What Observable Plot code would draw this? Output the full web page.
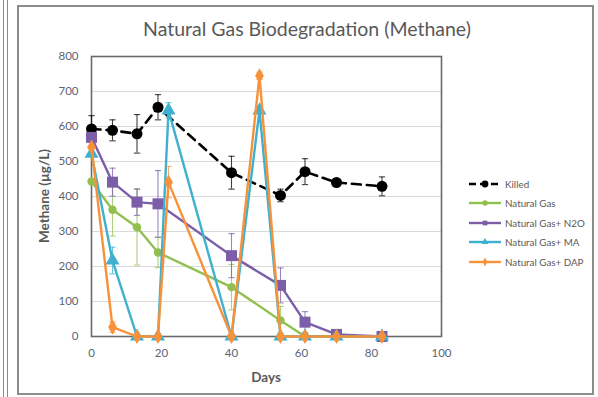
<!DOCTYPE html>
<html>
<head>
<meta charset="utf-8">
<script src="https://cdn.jsdelivr.net/npm/d3@7"></script>
<script src="https://cdn.jsdelivr.net/npm/@observablehq/plot@0.6"></script>
<style>
  body { margin: 0; background: #fff; font-family: Lato, "Open Sans", sans-serif; }
  #wrap { position: relative; width: 598px; height: 397px; overflow: hidden; background: #fff; }
  #edge { position: absolute; left: 3px; top: -4px; width: 3px; height: 405px; border-left: 1.5px solid #8a8a8a; border-right: 1.5px solid #8a8a8a; }
  #frame { position: absolute; left: 17px; top: 5px; width: 573px; height: 386px; border: 2px solid #8c8c8c; box-sizing: content-box; }
  #chart { position: absolute; left: 0; top: 0; }
  #title { position: absolute; left: 18px; width: 578px; top: 17px; text-align: center; font-size: 19.5px; color: #595959; }
  #ytitle { position: absolute; left: 44px; top: 196px; transform: translate(-50%, -50%) rotate(-90deg); font-size: 13.5px; font-weight: bold; color: #595959; white-space: nowrap; }
  #xtitle { position: absolute; left: 266px; top: 377px; transform: translate(-50%, -50%); font-size: 13.5px; font-weight: bold; color: #595959; }
  #legend { position: absolute; left: 468px; top: 174px; font-size: 9.8px; color: #595959; }
  #legend .row { display: flex; align-items: center; height: 19.5px; }
  #legend svg { margin-right: 3px; }
</style>
</head>
<body>
<div id="wrap">
  <div id="edge"></div>
  <div id="frame"></div>
  <div id="chart"></div>
  <div id="title">Natural Gas Biodegradation (Methane)</div>
  <div id="ytitle">Methane (µg/L)</div>
  <div id="xtitle">Days</div>
  <div id="legend"></div>
</div>
<script>
// Sampling days and methane concentrations (µg/L) with ± error for each treatment
const seriesNames = ["Killed", "Natural Gas", "Natural Gas+ N2O", "Natural Gas+ MA", "Natural Gas+ DAP"];
const seriesColors = ["#000000", "#92c050", "#7b5ea7", "#3fb0cf", "#f7923a"];
const seriesSymbols = ["circle", "circle", "square", "triangle", "diamond"];

const killedDays = [0, 6, 13, 19, 40, 54, 61, 70, 83];
const killedMethane = [593, 589, 579, 655, 468, 403, 471, 440, 429];
const killedErr = [38, 30, 55, 36, 47, 18, 37, 0, 27];

const gasDays = [0, 6, 13, 19, 40, 54, 61, 70, 83];
const gasMethane = [443, 362, 312, 240, 141, 46, 0, 0, 0];
const gasErr = [0, 75, 108, 43, 65, 40, 0, 0, 0];

const n2oDays = [0, 6, 13, 19, 40, 54, 61, 70, 83];
const n2oMethane = [569, 441, 384, 379, 231, 146, 41, 6, 0];
const n2oErr = [0, 40, 38, 95, 63, 50, 30, 0, 0];

const maDays = [0, 6, 13, 19, 22, 40, 48, 54, 61, 70, 83];
const maMethane = [522, 217, 0, 0, 646, 0, 646, 0, 0, 0, 0];
const maErr = [0, 38, 0, 0, 22, 0, 0, 0, 0, 0, 0];

const dapDays = [0, 6, 13, 19, 22, 40, 48, 54, 61, 70, 83];
const dapMethane = [541, 27, 0, 0, 441, 0, 745, 0, 0, 0, 0];
const dapErr = [0, 15, 0, 0, 45, 0, 10, 0, 0, 0, 0];

const xTicks = [0, 20, 40, 60, 80, 100];
const yTicks = [0, 100, 200, 300, 400, 500, 600, 700, 800];

const seriesData = [
  [killedDays, killedMethane, killedErr],
  [gasDays, gasMethane, gasErr],
  [n2oDays, n2oMethane, n2oErr],
  [maDays, maMethane, maErr],
  [dapDays, dapMethane, dapErr]
].map(([days, vals, errs], i) =>
  days.map((day, j) => ({series: seriesNames[i], day, value: vals[j], err: errs[j]}))
);

const styles = [
  {r: 5.5, dash: "9,6", width: 2.6},
  {r: 4.2, dash: null, width: 2.4},
  {r: 6.2, dash: null, width: 2.4},
  {r: 5.2, dash: null, width: 2.4},
  {r: 4.6, dash: null, width: 2.4}
];

const capHalf = 0.9; // half-width of error bar caps, in days

const marks = [
  Plot.gridY(yTicks, {stroke: "#d9d9d9", strokeOpacity: 1, strokeWidth: 1.2}),
  Plot.axisY(yTicks, {tickSize: 0, tickPadding: 13, fontSize: 11.5, fill: "#5b6474", label: null}),
  Plot.axisX(xTicks, {tickSize: 0, tickPadding: 12, fontSize: 11.5, fill: "#5b6474", label: null}),
  Plot.frame({stroke: "#6a6a6a", strokeWidth: 1.6})
];

seriesData.forEach((data, i) => {
  const color = seriesColors[i];
  const st = styles[i];
  const withErr = data.filter(d => d.err > 0);
  marks.push(
    Plot.ruleX(withErr, {x: "day", y1: d => d.value - d.err, y2: d => d.value + d.err, stroke: color, strokeOpacity: 0.75, strokeWidth: 1.1}),
    Plot.link(withErr, {x1: d => d.day - capHalf, x2: d => d.day + capHalf, y1: d => d.value + d.err, y2: d => d.value + d.err, stroke: color, strokeOpacity: 0.75, strokeWidth: 1.1}),
    Plot.link(withErr, {x1: d => d.day - capHalf, x2: d => d.day + capHalf, y1: d => d.value - d.err, y2: d => d.value - d.err, stroke: color, strokeOpacity: 0.75, strokeWidth: 1.1}),
    Plot.line(data, {x: "day", y: "value", stroke: color, strokeWidth: st.width, strokeDasharray: st.dash, strokeLinejoin: "round"}),
    Plot.dot(data, {x: "day", y: "value", fill: color, stroke: "none", r: st.r, symbol: seriesSymbols[i]})
  );
});

const chart = Plot.plot({
  width: 598,
  height: 397,
  marginLeft: 91,
  marginRight: 157,
  marginTop: 56,
  marginBottom: 61,
  style: {background: "transparent", fontFamily: "Lato, 'Open Sans', sans-serif"},
  x: {domain: [0, 100]},
  y: {domain: [0, 800]},
  marks
});
document.getElementById("chart").appendChild(chart);

// Legend: short line sample with the series marker, then the name
const legend = d3.select("#legend");
seriesNames.forEach((name, i) => {
  const row = legend.append("div").attr("class", "row");
  const svg = row.append("svg").attr("width", 34).attr("height", 12);
  svg.append("line")
    .attr("x1", 1).attr("x2", 33).attr("y1", 6).attr("y2", 6)
    .attr("stroke", seriesColors[i]).attr("stroke-width", 2.4)
    .attr("stroke-dasharray", i === 0 ? "7,4" : null);
  const symbolType = {circle: d3.symbolCircle, square: d3.symbolSquare, triangle: d3.symbolTriangle, diamond: d3.symbolDiamond}[seriesSymbols[i]];
  svg.append("path")
    .attr("transform", "translate(17,6)")
    .attr("d", d3.symbol(symbolType, i === 0 ? 36 : 22)())
    .attr("fill", seriesColors[i]);
  row.append("span").text(name);
});
</script>
</body>
</html>
